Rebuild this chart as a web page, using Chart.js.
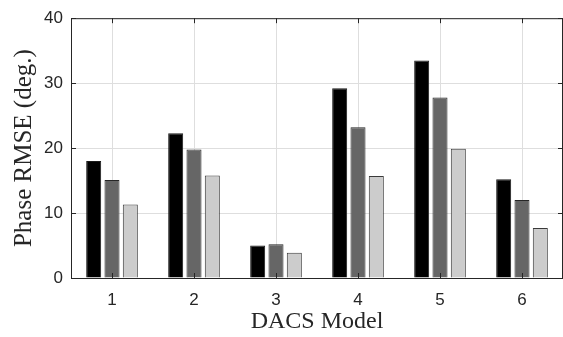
<!DOCTYPE html>
<html>
<head>
<meta charset="utf-8">
<script src="https://cdn.jsdelivr.net/npm/chart.js@4"></script>
<style>
  html, body { margin: 0; padding: 0; background: #fff; }
  #wrap { width: 563px; height: 337px; }
</style>
</head>
<body>
<div id="wrap"><canvas id="myChart" width="563" height="337"></canvas></div>
<script>
// values
var models = ["1", "2", "3", "4", "5", "6"];
var seriesA = [18.0, 22.3, 5.0, 29.2, 33.5, 15.2];
var seriesB = [15.1, 19.8, 5.2, 23.2, 27.8, 12.0];
var seriesC = [11.3, 15.8, 3.9, 15.7, 19.9, 7.7];
var yTicks = [0, 10, 20, 30, 40];

var axisColor = "#262626";

// MATLAB style box with inward ticks
var boxTicks = {
  id: "boxTicks",
  afterDraw: function (chart) {
    var ctx = chart.ctx;
    var a = chart.chartArea;
    var x = chart.scales.x, y = chart.scales.y;
    var len = 5;
    ctx.save();
    ctx.strokeStyle = axisColor;
    ctx.lineWidth = 1;
    ctx.beginPath();
    ctx.moveTo(a.left, a.top + 0.5);
    ctx.lineTo(a.right, a.top + 0.5);
    ctx.moveTo(a.right - 0.5, a.top);
    ctx.lineTo(a.right - 0.5, a.bottom);
    yTicks.forEach(function (v) {
      var py = Math.round(y.getPixelForValue(v)) + 0.5;
      ctx.moveTo(a.left, py);
      ctx.lineTo(a.left + len, py);
      ctx.moveTo(a.right, py);
      ctx.lineTo(a.right - len, py);
    });
    models.forEach(function (m, i) {
      var px = Math.round(x.getPixelForValue(i)) + 0.5;
      ctx.moveTo(px, a.bottom);
      ctx.lineTo(px, a.bottom - len);
      ctx.moveTo(px, a.top);
      ctx.lineTo(px, a.top + len);
    });
    ctx.stroke();
    ctx.restore();
  }
};

var ctx = document.getElementById("myChart").getContext("2d");
var myChart = new Chart(ctx, {
  type: "bar",
  data: {
    labels: models,
    datasets: [
      { label: "A", data: seriesA, backgroundColor: "#000000", borderColor: "#1a1a1a", borderWidth: 1 },
      { label: "B", data: seriesB, backgroundColor: "#666666", borderColor: "#262626", borderWidth: 1 },
      { label: "C", data: seriesC, backgroundColor: "#cccccc", borderColor: "#3a3a3a", borderWidth: 1 }
    ]
  },
  plugins: [boxTicks],
  options: {
    responsive: false,
    animation: false,
    layout: { padding: { top: 15, right: 0, left: 0, bottom: 0 } },
    datasets: {
      bar: { categoryPercentage: 0.67, barPercentage: 0.82 }
    },
    plugins: {
      legend: { display: false },
      tooltip: { enabled: false }
    },
    scales: {
      x: {
        grid: { offset: false, color: "#dedede", drawTicks: false },
        border: { color: axisColor, width: 1 },
        ticks: {
          color: axisColor,
          padding: 12,
          font: { family: "'Liberation Sans', Arial, sans-serif", size: 17 }
        },
        title: {
          display: true,
          text: "DACS Model",
          color: "#262626",
          padding: { top: 0, bottom: 1 },
          font: { family: "'Liberation Serif', 'Times New Roman', serif", size: 24 }
        },
        afterFit: function (scale) { scale.height = 59; }
      },
      y: {
        min: 0,
        max: 40,
        afterBuildTicks: function (scale) {
          scale.ticks = yTicks.map(function (v) { return { value: v }; });
        },
        grid: { color: "#dedede", drawTicks: false },
        border: { color: axisColor, width: 1 },
        ticks: {
          color: axisColor,
          padding: 8,
          font: { family: "'Liberation Sans', Arial, sans-serif", size: 17 }
        },
        title: {
          display: true,
          text: "Phase RMSE (deg.)",
          color: "#262626",
          padding: { top: 9, bottom: 0 },
          font: { family: "'Liberation Serif', 'Times New Roman', serif", size: 25 }
        },
        afterFit: function (scale) { scale.width = 71; }
      }
    }
  }
});
</script>
</body>
</html>
